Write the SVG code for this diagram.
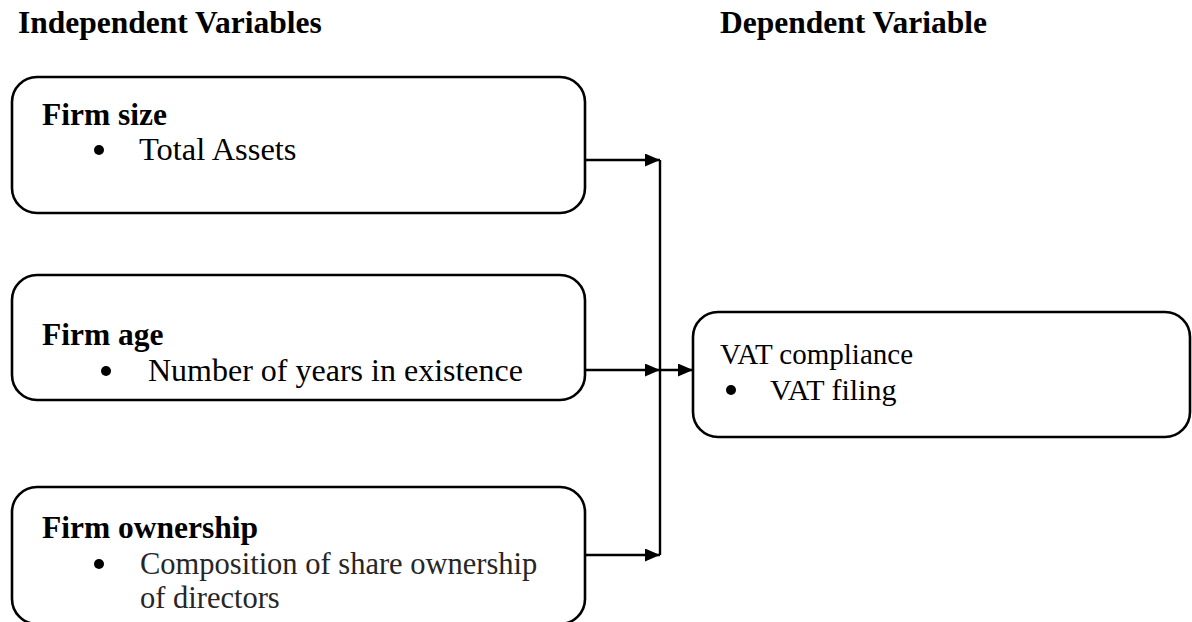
<svg xmlns="http://www.w3.org/2000/svg" width="1192" height="622" viewBox="0 0 1192 622">
<style>
.box{fill:#fff;stroke:#000;stroke-width:2.6}
.h{font-family:"Liberation Serif","Times New Roman",serif;font-weight:bold;font-size:31.5px;fill:#000}
.t{font-family:"Liberation Serif","Times New Roman",serif;font-size:31.5px;fill:#000}
.g{fill:#262626}
.c{fill:none;stroke:#000;stroke-width:2.4}
</style>
<defs>
<marker id="arr" markerWidth="15" markerHeight="13" refX="15" refY="6.5" orient="auto" markerUnits="userSpaceOnUse">
<path d="M0,0 L15,6.5 L0,13 Z" fill="#000"/>
</marker>
</defs>
<rect width="1192" height="622" fill="#fff"/>
<text class="h" x="18" y="33">Independent Variables</text>
<text class="h" x="720" y="33">Dependent Variable</text>
<g id="firm-size">
<rect class="box" x="12" y="77" width="573" height="136" rx="25" ry="25"/>
<text class="h" x="42" y="125">Firm size</text>
<circle cx="99" cy="150" r="5"/>
<text class="t" x="139" y="160" style="font-size:32.5px">Total Assets</text>
</g>
<g id="firm-age">
<rect class="box" x="12" y="275" width="573" height="125" rx="25" ry="25"/>
<text class="h" x="42" y="345">Firm age</text>
<circle cx="106" cy="371" r="5"/>
<text class="t" x="148" y="381" style="font-size:32px">Number of years in existence</text>
</g>
<g id="firm-ownership">
<rect class="box" x="12" y="487" width="573" height="137" rx="25" ry="25"/>
<text class="h" x="42" y="538">Firm ownership</text>
<circle cx="99" cy="564" r="5"/>
<text class="t g" x="140" y="574" style="font-size:30.5px">Composition of share ownership</text>
<text class="t g" x="140" y="608" style="font-size:30.5px">of directors</text>
</g>
<g id="vat-compliance">
<rect class="box" x="693" y="312" width="497" height="125" rx="25" ry="25"/>
<text class="t" x="720" y="364" style="font-size:29px">VAT compliance</text>
<circle cx="731" cy="390" r="5"/>
<text class="t" x="770" y="400" style="font-size:30px">VAT filing</text>
</g>
<g id="connectors">
<line class="c" x1="585" y1="160" x2="660" y2="160" marker-end="url(#arr)"/>
<line class="c" x1="660" y1="160" x2="660" y2="555"/>
<line class="c" x1="585" y1="370" x2="660" y2="370" marker-end="url(#arr)"/>
<line class="c" x1="660" y1="370" x2="693" y2="370" marker-end="url(#arr)"/>
<line class="c" x1="585" y1="555" x2="660" y2="555" marker-end="url(#arr)"/>
</g>
</svg>
